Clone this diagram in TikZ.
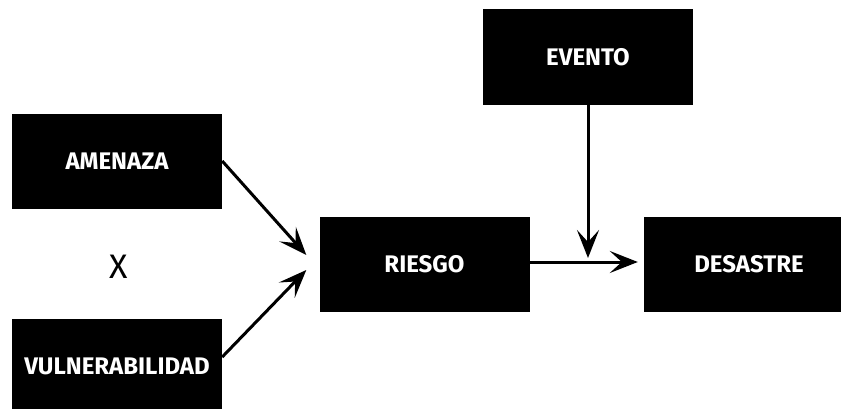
\documentclass[tikz,border=0pt]{standalone}
\usepackage{fontspec}
\setmainfont{Fira Sans}
\usepackage{tikz}
\usetikzlibrary{positioning}
\usetikzlibrary{shapes,arrows.meta,positioning}
\tikzstyle{block} = [rectangle, fill=black, text=white, font=\fontsize{24}{28}\selectfont\bfseries,
minimum width=210pt, minimum height=95pt, inner sep=0pt]
\tikzstyle{line} = [draw, line width=3pt, -{Stealth[length=28pt,width=22pt,inset=12pt]}]

\begin{document}
\begin{tikzpicture}[x=1pt, y=1pt, node distance = 205pt, auto]
   \useasboundingbox (0,0) rectangle (841,408);
    % nodes
   \node [block] (amenaza) at (117,247) {AMENAZA};
   \node [block, below of = amenaza] (vulne) {VULNERABILIDAD};
   \node (por) at (119,141) {\fontsize{34}{40}\selectfont X};
   \node [block] (riesgo) at (424.5,144) {RIESGO};
   \node [block] (evento) at (588,351) {EVENTO};
   \node [block] (desastre) at (749,144) {DESASTRE};

    % edges
          \path [line] (amenaza.east) -- ([xshift=-13pt,yshift=9pt]riesgo.west);
          \path [line] ([yshift=9pt]vulne.east) -- ([xshift=-13pt,yshift=-6pt]riesgo.west);
          \path [line, shorten >=6pt] ([yshift=2pt]riesgo.east) -- ([yshift=2pt]desastre.west);
          \path [line, shorten >=6pt] (evento.south) -- (evento.south |- riesgo.east);

  \end{tikzpicture}
\end{document}
